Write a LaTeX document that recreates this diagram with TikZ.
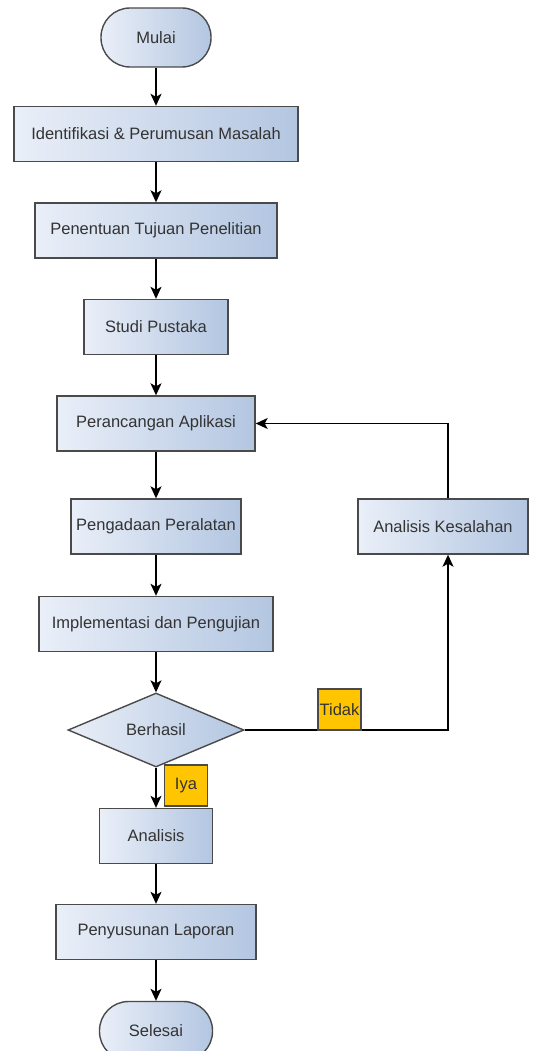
\documentclass[tikz,border=0pt]{standalone}
\usepackage{fontspec}
\setmainfont{Liberation Sans}
\usetikzlibrary{arrows.meta,shapes.geometric}
\definecolor{boxkiri}{HTML}{EAEFF8}
\definecolor{boxkanan}{HTML}{B3C6E1}
\definecolor{garis}{HTML}{4A4A4A}
\definecolor{teks}{HTML}{333333}
\definecolor{labelkuning}{HTML}{FFC500}

\begin{document}
\begin{tikzpicture}[x=1pt,y=-1pt,
        every node/.style={font=\fontsize{16.5}{19}\selectfont,text=teks},
        proses/.style={draw=garis,line width=1.4pt,left color=boxkiri,right color=boxkanan,inner sep=0pt,minimum height=55pt},
        terminal/.style={proses,rounded corners=29pt,minimum height=59pt},
        keputusan/.style={proses,diamond,shape aspect=2.4,minimum width=176pt,minimum height=74pt},
        catatan/.style={draw=garis,line width=1.2pt,fill=labelkuning,inner sep=0pt,minimum width=43pt,minimum height=41pt},
        panah/.style={line width=1.3pt,-{Stealth[length=12pt,width=11pt,inset=3pt]}}]
        \useasboundingbox (0,0) rectangle (534,1051);

        \node[terminal,minimum width=110pt]  (mulai)        at (156,37.5)  {Mulai};
        \node[proses,minimum width=284pt]    (identifikasi) at (156,134)   {Identifikasi \& Perumusan Masalah};
        \node[proses,minimum width=242pt]    (tujuan)       at (156,230.5) {Penentuan Tujuan Penelitian};
        \node[proses,minimum width=144pt]    (pustaka)      at (156,327)   {Studi Pustaka};
        \node[proses,minimum width=198pt]    (perancangan)  at (156,423.5) {Perancangan Aplikasi};
        \node[proses,minimum width=170pt]    (pengadaan)    at (156,526.5) {Pengadaan Peralatan};
        \node[proses,minimum width=170pt]    (kesalahan)    at (443,526.5) {Analisis Kesalahan};
        \node[proses,minimum width=234pt]    (implementasi) at (156,624)   {Implementasi dan Pengujian};
        \node[keputusan]                     (berhasil)     at (156,730)   {Berhasil};
        \node[proses,minimum width=113pt]    (analisis)     at (156,836)   {Analisis};
        \node[proses,minimum width=200pt]    (penyusunan)   at (156,932)   {Penyusunan Laporan};
        \node[terminal,minimum width=113pt]  (selesai)      at (156,1031)  {Selesai};

        \coordinate (belok) at (448,730);

        \draw[panah] (mulai) -- (identifikasi);
        \draw[panah] (identifikasi) -- (tujuan);
        \draw[panah] (tujuan) -- (pustaka);
        \draw[panah] (pustaka) -- (perancangan);
        \draw[panah] (perancangan) -- (pengadaan);
        \draw[panah] (pengadaan) -- (implementasi);
        \draw[panah] (implementasi) -- (berhasil);
        \draw[panah] (berhasil) -- (analisis);
        \draw[panah] (analisis) -- (penyusunan);
        \draw[panah] (penyusunan) -- (selesai);
        \draw[panah] (berhasil.east) -- (belok) -- (belok |- kesalahan.south);
        \draw[panah] (belok |- kesalahan.north) |- (perancangan.east);

        \node[catatan] (tidak) at (339.5,709.5) {Tidak};
        \node[catatan] (iya)   at (186,785.5)   {Iya};
    \end{tikzpicture}
\end{document}
